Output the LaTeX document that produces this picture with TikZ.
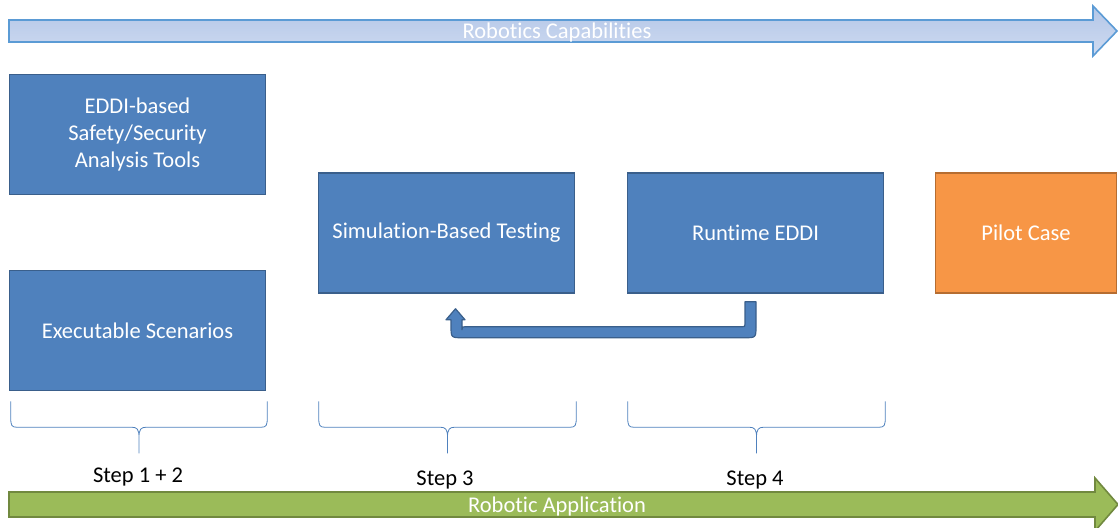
\documentclass[tikz,border=0pt]{standalone}
\usepackage{fontspec}
\setmainfont{Carlito}[Ligatures=NoCommon]
\usetikzlibrary{calc}

\definecolor{boxfill}{HTML}{4F81BD}
\definecolor{boxline}{HTML}{3A5F8B}
\definecolor{pilotfill}{HTML}{F79646}
\definecolor{pilotline}{HTML}{B66D31}
\definecolor{capline}{HTML}{5B9BD5}
\definecolor{captop}{HTML}{B3C6E7}
\definecolor{capbottom}{HTML}{CFDBF1}
\definecolor{appfill}{HTML}{9BBB59}
\definecolor{appline}{HTML}{71893F}

\tikzset{
  stagebox/.style={rectangle, fill=boxfill, draw=boxline, line width=1.5pt,
    minimum width=256pt, minimum height=120pt, inner sep=0pt,
    text=white, align=center, font=\fontsize{22.5}{27}\selectfont},
  pilotbox/.style={stagebox, fill=pilotfill, draw=pilotline, minimum width=181pt},
  bandtext/.style={text=white, font=\fontsize{22.5}{27}\selectfont, inner sep=0pt},
  steplabel/.style={anchor=base, font=\fontsize{22.5}{27}\selectfont, inner sep=0pt},
  bracestyle/.style={draw=boxfill, line width=0.8pt},
  loopback/.style={fill=boxfill, draw=boxline, line width=1.2pt, line join=round},
}

% curly brace between two named coordinates, opening downwards
\newcommand{\stepbrace}[2]{%
  \draw[bracestyle] let \p1=(#1), \p2=(#2), \p3=($(#1)!0.5!(#2)$) in
    (\x1,\y1) -- (\x1,\y1-17pt)
      .. controls (\x1,\y1-24pt) and (\x1+1pt,\y1-26pt) .. (\x1+6pt,\y1-26pt)
      -- (\x3-7pt,\y1-26pt)
      .. controls (\x3-2pt,\y1-26pt) and (\x3,\y1-28pt) .. (\x3,\y1-36pt)
      -- (\x3,\y1-52pt)
    (\x2,\y1) -- (\x2,\y1-17pt)
      .. controls (\x2,\y1-24pt) and (\x2-1pt,\y1-26pt) .. (\x2-6pt,\y1-26pt)
      -- (\x3+7pt,\y1-26pt)
      .. controls (\x3+2pt,\y1-26pt) and (\x3,\y1-28pt) .. (\x3,\y1-36pt);
}

\begin{document}
\begin{tikzpicture}[x=1pt, y=-1pt]
  \useasboundingbox (0,0) rectangle (1118,527);

  % capability band along the top
  \path[top color=captop, bottom color=capbottom, draw=capline, line width=1.6pt]
    (9,20) -- (1093,20) -- (1093,6) -- (1117,31) -- (1093,56) -- (1093,42)
    -- (9,42) -- cycle;
  \node[bandtext] (cap) at (557,33) {Robotics Capabilities};

  % application band along the bottom
  \path[fill=appfill, draw=appline, line width=1.6pt]
    (9,492) -- (1095,492) -- (1095,478) -- (1118,504.5) -- (1095,531)
    -- (1095,517) -- (9,517) -- cycle;
  \node[bandtext] (app) at (557,506) {Robotic Application};

  % stage boxes
  \node[stagebox] (eddi) at (137.5,134.5) {EDDI-based\\Safety/Security\\Analysis Tools};
  \node[stagebox] (es)   at (137.5,330.5) {Executable Scenarios};
  \node[stagebox] (sim)  at (446.5,233)   {Simulation-Based Testing};
  \node[stagebox] (rt)   at (755.5,233)   {Runtime EDDI};
  \node[pilotbox] (pilot) at (1026,233)   {Pilot Case};

  % feedback from runtime back to simulation
  \coordinate (uS) at ($(rt.south)+(-10.5,8)$);
  \begin{scope}[shift={(uS)}]
    \path[loopback]
      (0,0) -- (11,0) -- (11,24) .. controls (11,36) .. (-1,36)
      -- (-282,36) .. controls (-294,36) .. (-294,24) -- (-294,18)
      -- (-299,18) -- (-289.5,7) -- (-280,18) -- (-283,18) -- (-283,28)
      .. controls (-283,25) .. (-280,25) -- (-3,25)
      .. controls (0,25) .. (0,22) -- cycle;
  \end{scope}

  % braces grouping the steps, all hanging from the same line
  \coordinate (b1l) at ($(es.south west)+(2,10)$);
  \coordinate (b1r) at ($(es.south east)+(1,10)$);
  \coordinate (b3l) at ($(sim.west |- b1l)+(1,0)$);
  \coordinate (b3r) at ($(sim.east |- b1l)+(1,0)$);
  \coordinate (b4l) at ($(rt.west |- b1l)+(1,0)$);
  \coordinate (b4r) at ($(rt.east |- b1l)+(1,0)$);
  \stepbrace{b1l}{b1r}
  \stepbrace{b3l}{b3r}
  \stepbrace{b4l}{b4r}

  \node[steplabel] (s12) at (138,482) {Step 1 + 2};
  \node[steplabel] (s3)  at (445,485) {Step 3};
  \node[steplabel] (s4)  at (755,485) {Step 4};
\end{tikzpicture}
\end{document}
